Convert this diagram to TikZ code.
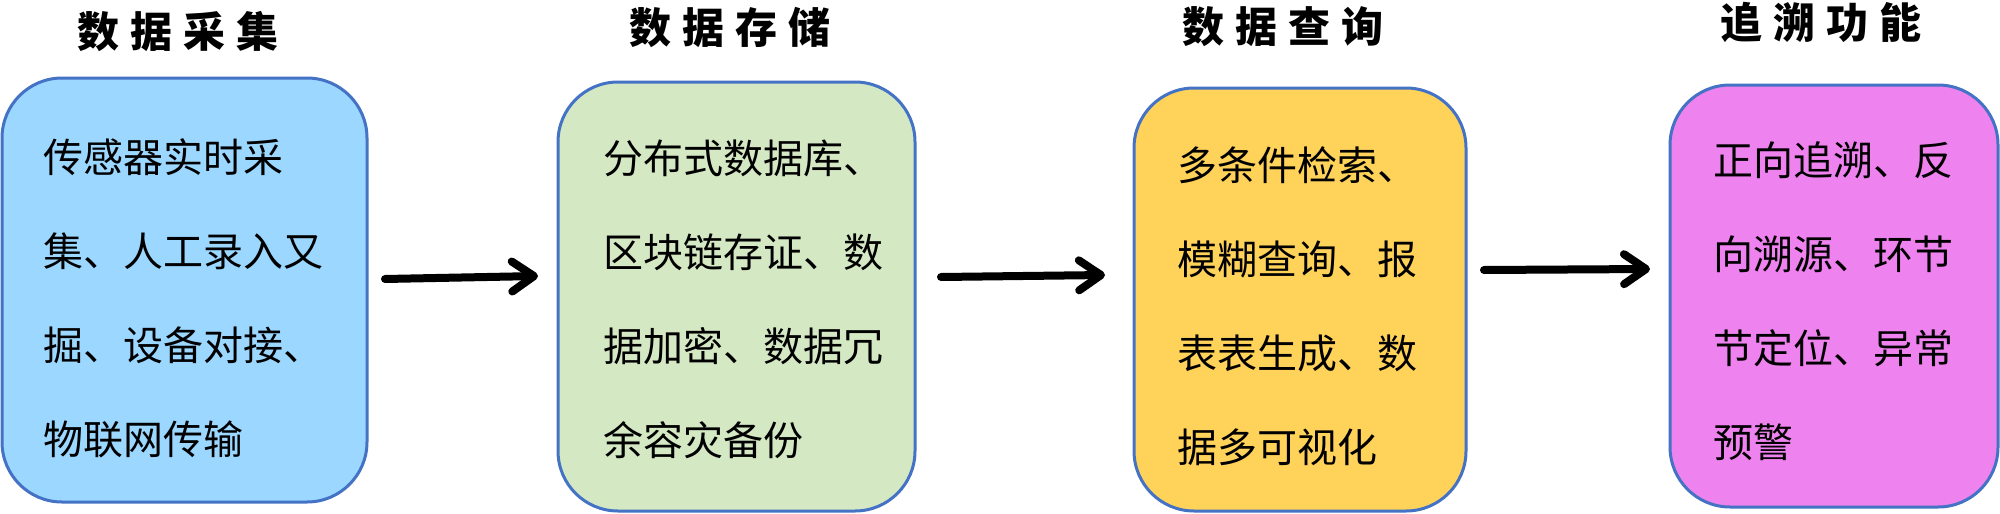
\documentclass[tikz,border=0pt]{standalone}
\usepackage{fontspec}
\setmainfont{Noto Sans CJK SC}
\newfontfamily\cjk{Noto Sans CJK SC}
\usetikzlibrary{arrows.meta}
\definecolor{bordc}{RGB}{68,114,196}
\definecolor{fblue}{RGB}{155,215,255}
\definecolor{fgreen}{RGB}{213,232,196}
\definecolor{forange}{RGB}{255,210,90}
\definecolor{fpink}{RGB}{238,130,238}
\tikzset{
  card/.style={draw=bordc, line width=3pt, rounded corners=60pt},
  ttl/.style={font=\cjk\bfseries\fontsize{42}{42}\selectfont, inner sep=0pt, anchor=center},
  body/.style={font=\cjk\fontsize{40}{40}\selectfont, inner sep=0pt, anchor=base west},
  flow/.style={line width=8pt, line cap=round, -{Straight Barb[length=22pt,width=30pt,line cap=round,line join=round]}}
}
\newcommand{\tsp}{\hspace{11pt}}
\begin{document}
\begin{tikzpicture}[x=1pt,y=-1pt]
\useasboundingbox (0,0) rectangle (2000,514);
% boxes
\draw[card, fill=fblue] (2,78) rectangle (367,502);
\draw[card, fill=fgreen] (558,82) rectangle (915,511);
\draw[card, fill=forange] (1134,88) rectangle (1466,511);
\draw[card, fill=fpink] (1670,85) rectangle (1998,507);
% titles
\node[ttl] (t1) at (178,32) {数\tsp 据\tsp 采\tsp 集};
\node[ttl] (t2) at (730,28) {数\tsp 据\tsp 存\tsp 储};
\node[ttl] (t3) at (1283,27) {数\tsp 据\tsp 查\tsp 询};
\node[ttl] (t4) at (1821,22) {追\tsp 溯\tsp 功\tsp 能};
% body text
\foreach \t [count=\i] in {传感器实时采, 集、人工录入又, 掘、设备对接、, 物联网传输}
  \node[body] (a\i) at (43,{172+(\i-1)*94}) {\t};
\foreach \t [count=\i] in {分布式数据库、, 区块链存证、数, 据加密、数据冗, 余容灾备份}
  \node[body] (b\i) at (603,{173+(\i-1)*94}) {\t};
\foreach \t [count=\i] in {多条件检索、, 模糊查询、报, 表表生成、数, 据多可视化}
  \node[body] (c\i) at (1177,{180+(\i-1)*94}) {\t};
\foreach \t [count=\i] in {正向追溯、反, 向溯源、环节, 节定位、异常, 预警}
  \node[body] (d\i) at (1713,{175+(\i-1)*94}) {\t};
% arrows
\coordinate (s1) at (385,279); \coordinate (e1) at (538,276);
\coordinate (s2) at (941,277); \coordinate (e2) at (1105,275);
\coordinate (s3) at (1484,270); \coordinate (e3) at (1650,269);
\draw[flow] (s1) -- (e1);
\draw[flow] (s2) -- (e2);
\draw[flow] (s3) -- (e3);
\end{tikzpicture}
\end{document}
